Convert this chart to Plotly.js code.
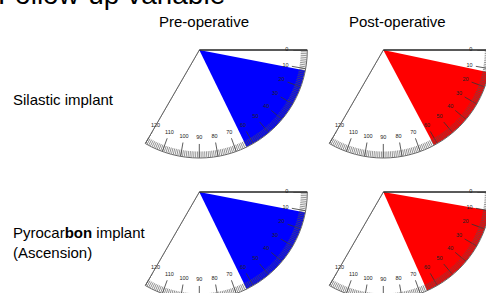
<!DOCTYPE html>
<html>
<head>
<meta charset="utf-8">
<script src="https://cdn.plot.ly/plotly-3.0.1.min.js"></script>
<style>
html, body { margin: 0; padding: 0; overflow: hidden; background: #fff; }
#chart { width: 500px; height: 310px; }
</style>
</head>
<body>
<div id="chart"></div>
<script>
// ---- data ----
const chartTitle = 'Follow-up variable';
const columns = ['Pre-operative', 'Post-operative'];
const implants = ['Silastic implant', 'Pyrocar<b>bon</b> implant<br>(Ascension)'];
// range of motion (degrees on the goniometer scale): start / end
const preStart  = [11, 11];
const preEnd    = [64, 64];
const postStart = [12, 10];
const postEnd   = [62, 66];
const scaleMax = 120;
const tickLabels = ['0','10','20','30','40','50','60','70','80','90','100','110','120'];
const colColors = ['#0000ff', '#ff0000'];

// ---- layout geometry (pixels) ----
const W = 500, H = 310;
const apexX = [199.3, 383.3];
const apexY = [50, 192];
const R = 108;

const starts = [preStart, postStart];
const ends = [preEnd, postEnd];
const tickVals = tickLabels.map(Number);

const traces = [];
const layout = {
  width: W, height: H,
  margin: {l: 0, r: 0, t: 0, b: 0, pad: 0},
  paper_bgcolor: '#fff',
  showlegend: false,
  font: {family: 'Arial, "Liberation Sans", sans-serif', color: '#000'},
  annotations: []
};

let n = 0;
for (let row = 0; row < implants.length; row++) {
  for (let col = 0; col < columns.length; col++) {
    n++;
    const id = n === 1 ? 'polar' : 'polar' + n;
    const s = starts[col][row], e = ends[col][row];
    // wedge
    traces.push({
      type: 'barpolar', subplot: id,
      r: [1], theta: [(s + e) / 2], width: [e - s], base: 0,
      marker: {color: colColors[col], line: {width: 0}},
      hoverinfo: 'skip'
    });
    // lower boundary line of scale
    traces.push({
      type: 'scatterpolar', subplot: id, mode: 'lines',
      r: [0, 1], theta: [scaleMax, scaleMax],
      line: {color: '#777', width: 1}, hoverinfo: 'skip'
    });
    // major ticks
    const mr = [], mt = [];
    tickVals.forEach(v => { mr.push(0.87, 1, null); mt.push(v, v, null); });
    traces.push({
      type: 'scatterpolar', subplot: id, mode: 'lines',
      r: mr, theta: mt, line: {color: '#333', width: 0.8}, hoverinfo: 'skip'
    });
    // tick labels
    traces.push({
      type: 'scatterpolar', subplot: id, mode: 'text',
      r: tickVals.map(() => 0.81), theta: tickVals, text: tickLabels,
      textfont: {size: 5.5, color: '#222'}, hoverinfo: 'skip', cliponaxis: false
    });

    const x0 = (apexX[col] - 0.5 * R) / W, x1 = (apexX[col] + R) / W;
    const y0 = 1 - (apexY[row] + R) / H, y1 = 1 - apexY[row] / H;
    layout[id] = {
      domain: {x: [x0, x1], y: [y0, y1]},
      sector: [240, 360],
      bgcolor: 'rgba(0,0,0,0)',
      radialaxis: {range: [0, 1], angle: 0, showline: true, linecolor: '#000', linewidth: 1,
        showgrid: false, showticklabels: false, ticks: ''},
      angularaxis: {rotation: 0, direction: 'clockwise', thetaunit: 'degrees',
        showline: true, linecolor: '#666', linewidth: 1, showgrid: false,
        ticks: 'inside', ticklen: 6, tickwidth: 0.6, tickcolor: '#555',
        tickmode: 'linear', tick0: 0, dtick: 1, showticklabels: false}
    };
  }
}

// title (cut off at top as in the reference)
layout.annotations.push({
  text: chartTitle, xref: 'paper', yref: 'paper', x: -4 / W, y: 1 - 12 / H,
  xanchor: 'left', yanchor: 'bottom', showarrow: false,
  font: {size: 28, color: '#000'}
});
// column headers
const colCenters = [204, 397];
columns.forEach((c, i) => layout.annotations.push({
  text: c, xref: 'paper', yref: 'paper', x: colCenters[i] / W, y: 1 - 21 / H,
  xanchor: 'center', yanchor: 'middle', showarrow: false, font: {size: 15}
}));
// row labels
const rowCenters = [99, 242];
implants.forEach((t, i) => layout.annotations.push({
  text: t, xref: 'paper', yref: 'paper', x: 11 / W, y: 1 - rowCenters[i] / H,
  xanchor: 'left', yanchor: 'middle', align: 'left', showarrow: false, font: {size: 15}
}));

Plotly.newPlot('chart', traces, layout, {staticPlot: true, displayModeBar: false});
</script>
</body>
</html>
